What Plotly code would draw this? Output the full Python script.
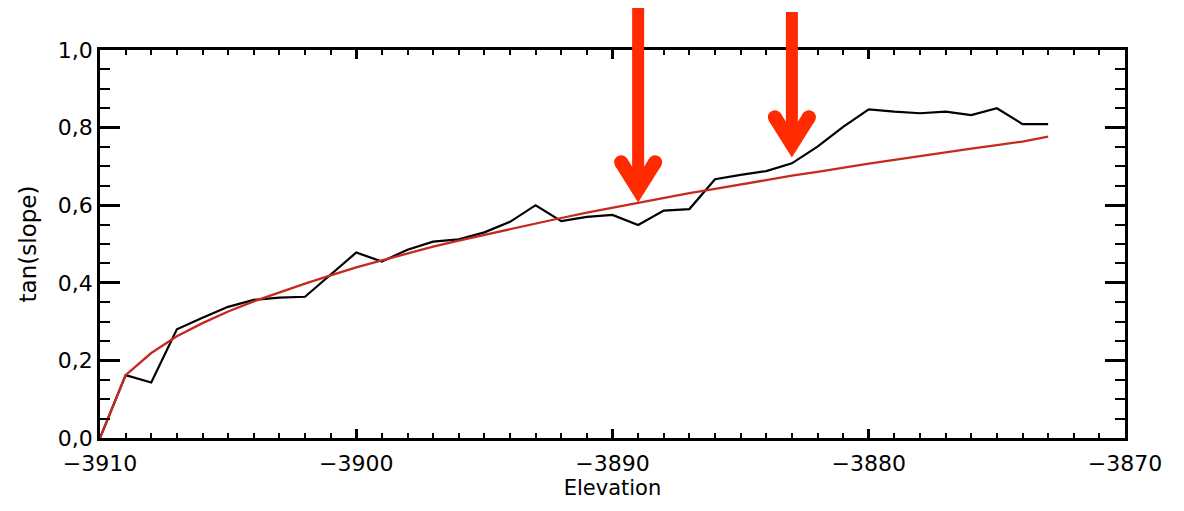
import plotly.graph_objects as go

elevation = list(range(-3910, -3872))
tan_slope = [0.0, 0.162, 0.143, 0.280, 0.310, 0.338, 0.356, 0.362, 0.364, 0.420,
             0.478, 0.455, 0.485, 0.506, 0.512, 0.530, 0.557, 0.600, 0.559, 0.570,
             0.575, 0.549, 0.586, 0.590, 0.667, 0.678, 0.688, 0.708, 0.751, 0.802,
             0.847, 0.841, 0.837, 0.841, 0.832, 0.850, 0.809, 0.809]
fit_values = [0.0, 0.162, 0.219, 0.262, 0.296, 0.326, 0.352, 0.376, 0.398, 0.419,
              0.440, 0.458, 0.476, 0.493, 0.509, 0.524, 0.539, 0.553, 0.567, 0.581,
              0.594, 0.606, 0.619, 0.631, 0.642, 0.654, 0.665, 0.676, 0.686, 0.697,
              0.707, 0.717, 0.727, 0.736, 0.746, 0.755, 0.764, 0.777]
arrow_elevations = [-3889, -3883]
arrow_tips = [0.641, 0.757]      # centre of each arrow tip (paper units == data units here)
arrow_tops = [1.108, 1.098]      # top of each arrow shaft (paper units)

fig = go.Figure()
fig.add_trace(go.Scatter(x=elevation, y=tan_slope, mode="lines",
                         line=dict(color="black", width=2.2), showlegend=False))
fig.add_trace(go.Scatter(x=elevation, y=fit_values, mode="lines",
                         line=dict(color="#c42a1e", width=2.3), showlegend=False))

arrow_color = "#ff2a00"
W = 14          # arm stroke width (px)
R = W / 2
ARM_DX, ARM_DY = 17, 27   # arm extent in px (sideways, up)
PLOT_H = 388

for xe, tip, top in zip(arrow_elevations, arrow_tips, arrow_tops):
    # shaft
    fig.add_shape(type="line", xref="x", yref="paper", ysizemode="pixel", yanchor=tip,
                  x0=xe, x1=xe, y0=-4, y1=(top - tip) * PLOT_H,
                  line=dict(color=arrow_color, width=12))
    # mitred V head
    fig.add_shape(type="path", xref="x", yref="paper",
                  xsizemode="pixel", xanchor=xe, ysizemode="pixel", yanchor=tip,
                  path=f"M {-ARM_DX},{ARM_DY} L 0,0 L {ARM_DX},{ARM_DY}",
                  line=dict(color=arrow_color, width=W))
    # rounded arm ends
    for sgn in (-1, 1):
        fig.add_shape(type="circle", xref="x", yref="paper",
                      xsizemode="pixel", xanchor=xe, ysizemode="pixel", yanchor=tip,
                      x0=sgn * ARM_DX - R, x1=sgn * ARM_DX + R,
                      y0=ARM_DY - R, y1=ARM_DY + R,
                      fillcolor=arrow_color, line=dict(width=0))

axis_common = dict(showgrid=False, zeroline=False, showline=True, linecolor="black",
                   linewidth=2.5, mirror="ticks", ticks="inside", tickcolor="black",
                   tickwidth=2.5, tickfont=dict(family="DejaVu Sans", size=22, color="black"))

fig.update_xaxes(range=[-3910, -3870], dtick=10, tick0=-3910, ticklen=9,
                 ticklabelstandoff=4,
                 minor=dict(dtick=1, ticks="inside", ticklen=5, tickwidth=2, tickcolor="black"),
                 title=dict(text="Elevation", font=dict(family="DejaVu Sans", size=21, color="black"),
                            standoff=6),
                 **axis_common)
fig.update_yaxes(range=[0, 1], dtick=0.2, tickformat=".1f", ticklen=20,
                 minor=dict(dtick=0.05, ticks="inside", ticklen=10, tickwidth=2, tickcolor="black"),
                 title=dict(text="tan(slope)", font=dict(family="DejaVu Sans", size=23, color="black"),
                            standoff=15),
                 **axis_common)

fig.update_layout(width=1184, height=511, margin=dict(l=100, r=59, t=50, b=73),
                  plot_bgcolor="white", paper_bgcolor="white", separators=",.")

fig.write_html("out.html")
